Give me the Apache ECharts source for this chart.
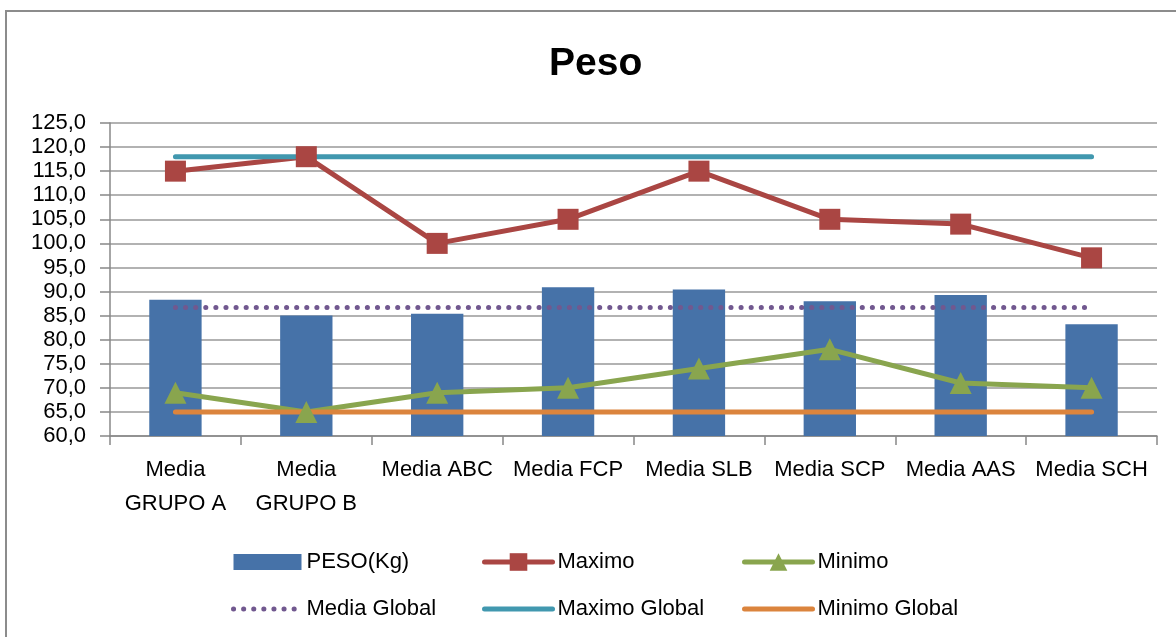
<!DOCTYPE html>
<html>
<head>
<meta charset="utf-8">
<script src="https://cdn.jsdelivr.net/npm/echarts@6/dist/echarts.min.js"></script>
<style>
  html, body { margin: 0; padding: 0; background: #fff; }
  #chart { width: 1176px; height: 637px; }
</style>
</head>
<body>
<div id="chart"></div>
<script>
// categorias del eje x
var categories = ['Media\nGRUPO A', 'Media\nGRUPO B', 'Media ABC', 'Media FCP', 'Media SLB', 'Media SCP', 'Media AAS', 'Media SCH'];
// series
var peso = [88.3, 85.0, 85.4, 90.9, 90.4, 88.0, 89.3, 83.2];
var maximo = [115, 118, 100, 105, 115, 105, 104, 97];
var minimo = [69, 65, 69, 70, 74, 78, 71, 70];
var mediaGlobal = [86.7, 86.7, 86.7, 86.7, 86.7, 86.7, 86.7, 86.7];
var maximoGlobal = [118, 118, 118, 118, 118, 118, 118, 118];
var minimoGlobal = [65, 65, 65, 65, 65, 65, 65, 65];
// eje y
var yMin = 60, yMax = 125, yStep = 5;

var chart = echarts.init(document.getElementById('chart'));
var fuente = 'Liberation Sans';

var legendBase = {
    orient: 'vertical',
    itemWidth: 68,
    itemGap: 25,
    lineStyle: { width: 5, cap: 'round' },
    textStyle: { fontFamily: fuente, fontSize: 22, color: '#000' }
};

var option = {
    animation: false,
    graphic: [{
        type: 'rect',
        shape: { x: 6, y: 11, width: 1200, height: 700 },
        style: { fill: 'none', stroke: '#8c8c8c', lineWidth: 2 },
        silent: true
    }],
    title: {
        text: 'Peso',
        left: 544,
        top: 40,
        textStyle: { fontFamily: fuente, fontSize: 39, fontWeight: 'bold', color: '#000' }
    },
    legend: [
        Object.assign({}, legendBase, {
            left: 226, top: 546, itemHeight: 16,
            data: [
                { name: 'PESO(Kg)', icon: 'rect' },
                { name: 'Media Global', itemStyle: { opacity: 0 } }
            ]
        }),
        Object.assign({}, legendBase, {
            left: 477, top: 546, itemHeight: 22, itemGap: 25,
            data: [
                { name: 'Maximo' },
                { name: 'Maximo Global', itemStyle: { opacity: 0 } }
            ]
        }),
        Object.assign({}, legendBase, {
            left: 737, top: 546, itemHeight: 22, itemGap: 25,
            data: [
                { name: 'Minimo' },
                { name: 'Minimo Global', itemStyle: { opacity: 0 } }
            ]
        })
    ],
    grid: { left: 110, right: 19, top: 123, bottom: 201 },
    xAxis: {
        type: 'category',
        data: categories,
        axisLine: { lineStyle: { color: '#888', width: 1.5 } },
        axisTick: { show: true, length: 9, lineStyle: { color: '#888', width: 1.5 } },
        axisLabel: { fontFamily: fuente, fontSize: 22, color: '#000', margin: 17, lineHeight: 34, interval: 0 }
    },
    yAxis: {
        type: 'value',
        min: yMin,
        max: yMax,
        interval: yStep,
        axisLine: { show: true, lineStyle: { color: '#888', width: 1.5 } },
        axisTick: { show: true, length: 10, lineStyle: { color: '#888', width: 1.5 } },
        splitLine: { lineStyle: { color: '#999', width: 1.5 } },
        axisLabel: {
            fontFamily: fuente, fontSize: 22, color: '#000', margin: 24,
            formatter: function (v) { return v.toFixed(1).replace('.', ','); }
        }
    },
    series: [
        {
            name: 'PESO(Kg)',
            type: 'bar',
            data: peso,
            barWidth: '40%',
            itemStyle: { color: '#4672A8' }
        },
        {
            name: 'Maximo',
            type: 'line',
            data: maximo,
            symbol: 'rect',
            symbolSize: 21,
            itemStyle: { color: '#AA4643' },
            lineStyle: { color: '#AA4643', width: 5 }
        },
        {
            name: 'Minimo',
            type: 'line',
            data: minimo,
            symbol: 'triangle',
            symbolSize: 22,
            itemStyle: { color: '#89A54E' },
            lineStyle: { color: '#89A54E', width: 5 }
        },
        {
            name: 'Media Global',
            type: 'line',
            data: mediaGlobal,
            symbol: 'none',
            itemStyle: { color: '#71588F' },
            lineStyle: { color: '#71588F', width: 5, type: [0.1, 10], cap: 'round' }
        },
        {
            name: 'Maximo Global',
            type: 'line',
            data: maximoGlobal,
            symbol: 'none',
            itemStyle: { color: '#4198AF' },
            lineStyle: { color: '#4198AF', width: 5, cap: 'round' }
        },
        {
            name: 'Minimo Global',
            type: 'line',
            data: minimoGlobal,
            symbol: 'none',
            itemStyle: { color: '#DB843D' },
            lineStyle: { color: '#DB843D', width: 5, cap: 'round' }
        }
    ]
};

chart.setOption(option);
</script>
</body>
</html>
